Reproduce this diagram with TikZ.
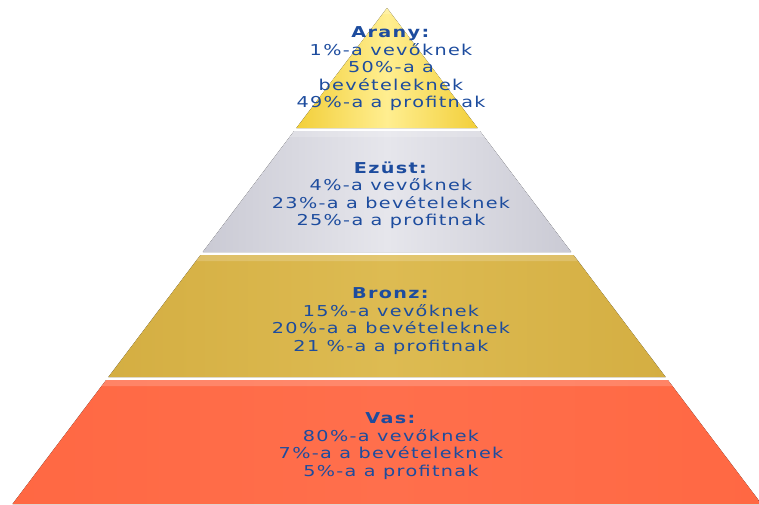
\documentclass[tikz,border=0pt]{standalone}
\usepackage{fontspec}
\newfontfamily\tierfont{DejaVu Sans}[FakeStretch=1.28,LetterSpace=9]
\definecolor{tiertext}{HTML}{1D4C9E}
\definecolor{goldE}{HTML}{F2CF3A}
\definecolor{goldM}{HTML}{FFEE90}
\definecolor{silverE}{HTML}{CACAD4}
\definecolor{silverM}{HTML}{E6E6EC}
\definecolor{bronzeE}{HTML}{D4AE42}
\definecolor{bronzeM}{HTML}{DDBB52}
\definecolor{vasE}{HTML}{FF6843}
\definecolor{vasM}{HTML}{FF6F4C}

\begin{document}
\begin{tikzpicture}[x=1pt, y=-1pt,
    tierlabel/.style={font=\tierfont\fontsize{15}{17.5}\selectfont,
      text=tiertext, align=center}]
  \useasboundingbox (0,0) rectangle (759,504);
  % one trapezoid per level, apex at (387,8)
  \foreach \n/\ya/\yb/\yc/\ce/\cm/\txt in {
      arany/8/128/69/goldE/goldM/{\textbf{Arany:}\\1\%-a vevőknek\\50\%-a a\\bevételeknek\\49\%-a a profitnak},
      ezust/131/252/195/silverE/silverM/{\textbf{Ezüst:}\\4\%-a vevőknek\\23\%-a a bevételeknek\\25\%-a a profitnak},
      bronz/255/377/321/bronzeE/bronzeM/{\textbf{Bronz:}\\15\%-a vevőknek\\20\%-a a bevételeknek\\21 \%-a a profitnak},
      vas/380/504/446/vasE/vasM/{\textbf{Vas:}\\80\%-a vevőknek\\7\%-a a bevételeknek\\5\%-a a profitnak}}
    {\fill[left color=\ce, right color=\ce, middle color=\cm]
       ({387-0.755*(\ya-8)},\ya) -- ({387+0.755*(\ya-8)},\ya)
       -- ({387+0.755*(\yb-8)},\yb) -- ({387-0.755*(\yb-8)},\yb) -- cycle;
     % light band along the top edge
     \fill[white, opacity=0.18]
       ({387-0.755*(\ya-8)},\ya) -- ({387+0.755*(\ya-8)},\ya)
       -- ({387+0.755*(\ya-2)},\ya+6) -- ({387-0.755*(\ya-2)},\ya+6) -- cycle;
     \node[tierlabel] (\n) at (391,\yc) {\txt};}
\end{tikzpicture}
\end{document}
